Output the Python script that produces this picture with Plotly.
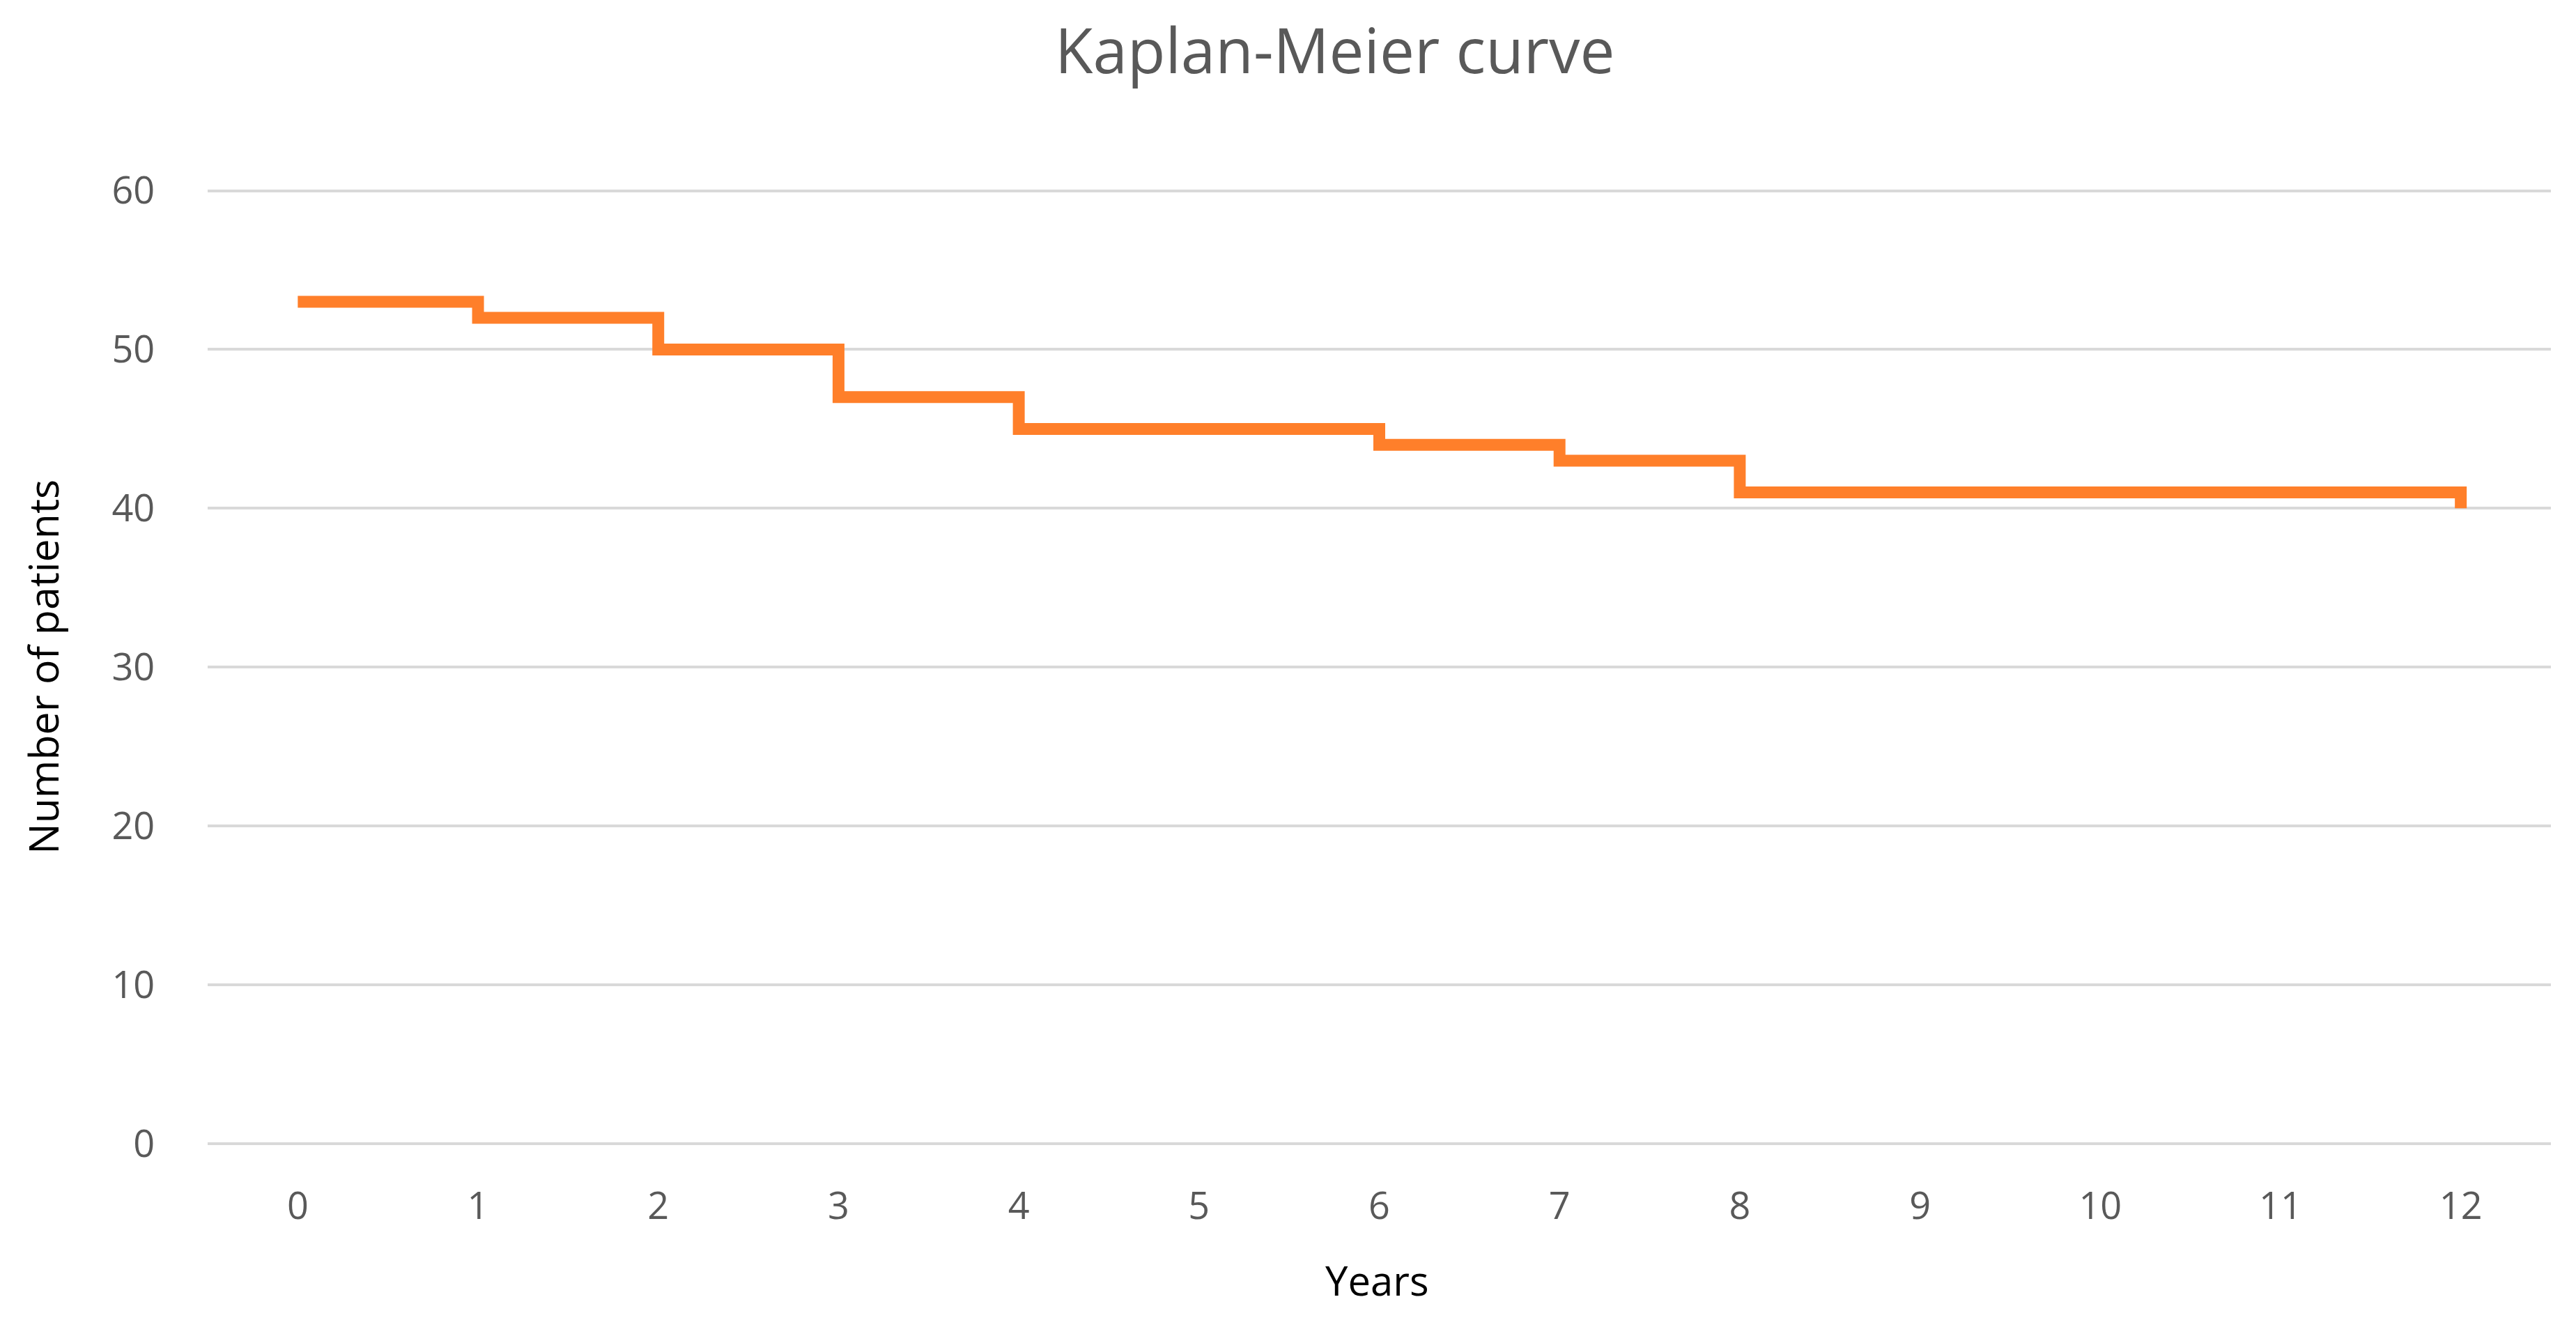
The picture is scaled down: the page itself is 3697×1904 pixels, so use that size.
import plotly.graph_objects as go

years = [0, 1, 2, 3, 4, 5, 6, 7, 8, 9, 10, 11, 12]
patients = [53, 52, 50, 47, 45, 45, 44, 43, 41, 41, 41, 41, 40]
y_ticks = [0, 10, 20, 30, 40, 50, 60]

OFF = 8  # default body margin of the html page
W, H = 3697 - 2 * OFF, 1904 - 2 * OFF
YMAX = 60.2
# target pixel positions (page coordinates) of the plot area
L_pg, R_pg = 298, 3661
Y0_pg, Y60_pg = 1641, 274
ppu = (Y0_pg - Y60_pg) / 60.0
T_pg = Y60_pg - (YMAX - 60) * ppu
L, R, T, B = L_pg - OFF, R_pg - OFF, T_pg - OFF, Y0_pg - OFF

fig = go.Figure()
fig.add_trace(go.Scatter(
    x=years, y=patients, mode="lines", line_shape="hv",
    line=dict(color="#FF7F2A", width=17), showlegend=False,
))

def px_x(p):
    return (p - OFF - L) / (R - L)

def px_y(p):
    return (B - (p - OFF)) / (B - T)

fig.update_layout(
    width=W, height=H,
    margin=dict(l=L, r=W - R, t=T, b=H - B, pad=0),
    plot_bgcolor="white", paper_bgcolor="white",
    font=dict(family="Open Sans", color="#595959"),
    xaxis=dict(
        range=[-0.5, 12.5], tickvals=years, ticktext=[str(v) for v in years],
        showgrid=False, zeroline=False, showline=False,
        tickfont=dict(size=54, color="#595959"),
        ticks="outside", ticklen=42, tickcolor="rgba(0,0,0,0)",
    ),
    yaxis=dict(
        range=[0, YMAX], tickvals=y_ticks,
        showgrid=True, gridcolor="#D9D9D9", gridwidth=4,
        zeroline=True, zerolinecolor="#D9D9D9", zerolinewidth=4,
        showline=False,
        tickfont=dict(size=54, color="#595959"),
        ticks="outside", ticklen=64, tickcolor="rgba(0,0,0,0)",
    ),
    annotations=[
        dict(text="Kaplan-Meier curve", x=px_x(1916), y=px_y(71), xref="paper", yref="paper",
             showarrow=False, font=dict(size=89, color="#595959"), xanchor="center", yanchor="middle"),
        dict(text="Years", x=px_x(1976), y=px_y(1836), xref="paper", yref="paper",
             showarrow=False, font=dict(size=58, color="#000000"), xanchor="center", yanchor="middle"),
        dict(text="Number of patients", x=px_x(61), y=px_y(957), xref="paper", yref="paper",
             showarrow=False, textangle=-90, font=dict(size=59, color="#000000"),
             xanchor="center", yanchor="middle"),
    ],
)

fig.write_html("out.html")
